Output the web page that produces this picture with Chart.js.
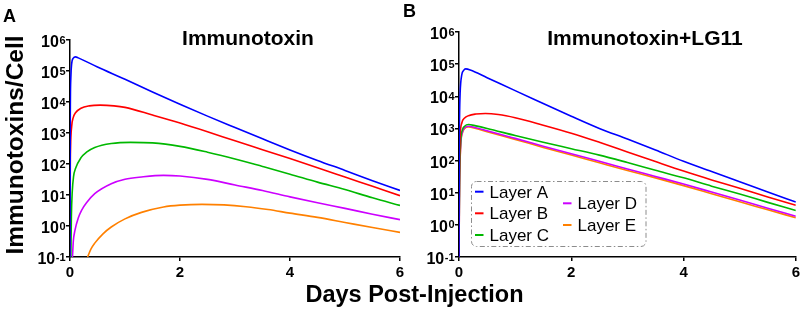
<!DOCTYPE html>
<html><head><meta charset="utf-8">
<script src="https://cdn.jsdelivr.net/npm/chart.js@4.4.1/dist/chart.umd.min.js"></script>
<style>
html,body{margin:0;padding:0;background:#fff;}
#wrap{position:relative;width:803px;height:310px;overflow:hidden;background:#fff}
canvas{position:absolute;left:0;top:0}
</style></head><body>
<div id="wrap"><canvas id="cA" width="803" height="310"></canvas><canvas id="cB" width="803" height="310"></canvas></div>
<script>
// ---- shared labels / ticks ----
const layerLabels = ['Layer A','Layer B','Layer C','Layer D','Layer E'];
const layerColors = ['#0000FF','#FF0000','#00B800','#CC00FF','#FF8000'];
const xTickDays = [0, 2, 4, 6];
const yTickExponents = [-1, 0, 1, 2, 3, 4, 5, 6];
const panelTitles = ['Immunotoxin', 'Immunotoxin+LG11'];
const panelLetters = ['A', 'B'];
const xAxisTitle = 'Days Post-Injection';
const yAxisTitle = 'Immunotoxins/Cell';

// ---- Panel A: Immunotoxin ----
const daysA_layerA = [0, 0.005, 0.015, 0.03, 0.06, 0.1, 0.15, 0.5, 1, 1.5, 2, 2.5, 3, 3.5, 4, 4.5, 5, 5.5, 6];
const cellsA_layerA = [0.1, 3000, 60000, 170000, 260000, 285000, 265000, 135000, 54000, 21000, 8500, 3500, 1500, 650, 285, 130, 62, 29, 14];
const daysA_layerB = [0, 0.005, 0.01, 0.03, 0.06, 0.1, 0.2, 0.35, 0.55, 0.8, 1, 1.5, 2, 2.5, 3, 3.5, 4, 4.5, 5, 5.5, 6];
const cellsA_layerB = [0.1, 63, 316, 1600, 3200, 4500, 6300, 7500, 7900, 7500, 6700, 3800, 2100, 1100, 560, 290, 150, 76, 38, 19, 9.5];
const daysA_layerC = [0.015, 0.025, 0.04, 0.065, 0.1, 0.2, 0.3, 0.45, 0.75, 1.1, 1.5, 2, 2.5, 3, 3.5, 4, 4.5, 5, 5.5, 6];
const cellsA_layerC = [0.1, 2, 12, 40, 71, 160, 240, 340, 457, 500, 480, 370, 240, 145, 83, 47, 26, 15, 8.1, 4.6];
const daysA_layerD = [0.045, 0.06, 0.09, 0.15, 0.21, 0.3, 0.45, 0.75, 1, 1.3, 1.7, 2, 2.5, 3, 3.5, 4, 4.5, 5, 5.5, 6];
const cellsA_layerD = [0.1, 0.32, 0.72, 1.8, 3.2, 5.6, 11, 23, 32, 38, 43, 41, 32, 21, 14, 8.7, 5.6, 3.7, 2.4, 1.6];
const daysA_layerE = [0.32, 0.38, 0.45, 0.6, 0.75, 1, 1.3, 1.7, 2, 2.4, 2.8, 3.2, 3.6, 4, 4.5, 5, 5.5, 6];
const cellsA_layerE = [0.1, 0.18, 0.28, 0.56, 0.93, 1.7, 2.75, 4.1, 4.7, 5.0, 4.8, 4.2, 3.4, 2.6, 1.9, 1.3, 0.89, 0.62];

// ---- Panel B: Immunotoxin+LG11 ----
const daysB_layerA = [0, 0.005, 0.01, 0.02, 0.05, 0.08, 0.12, 0.2, 0.5, 1, 1.5, 2, 2.5, 3, 3.5, 4, 4.5, 5, 5.5, 6];
const cellsB_layerA = [0.1, 316, 2500, 12600, 47000, 63000, 71000, 66000, 38000, 15000, 6000, 2400, 1000, 470, 214, 95, 46, 22, 10.5, 5.1];
const daysB_layerB = [0, 0.005, 0.01, 0.02, 0.05, 0.1, 0.17, 0.3, 0.47, 0.7, 1, 1.5, 2, 2.5, 3, 3.5, 4, 4.5, 5, 5.5, 6];
const cellsB_layerB = [0.1, 16, 100, 560, 1480, 2100, 2500, 2800, 2900, 2700, 2150, 1260, 710, 370, 186, 93, 47, 25, 13.8, 7.4, 4.1];
const daysB_layerC = [0, 0.005, 0.01, 0.03, 0.06, 0.1, 0.17, 0.3, 0.5, 1, 1.5, 2, 2.5, 3, 3.5, 4, 4.5, 5, 5.5, 6];
const cellsB_layerC = [0.1, 3.2, 32, 400, 890, 1170, 1320, 1200, 1000, 600, 370, 234, 148, 87, 50, 29, 16, 9.1, 5.0, 2.8];
const daysB_layerD = [0, 0.005, 0.01, 0.03, 0.06, 0.1, 0.17, 0.3, 0.5, 1, 1.5, 2, 2.5, 3, 3.5, 4, 4.5, 5, 5.5, 6];
const cellsB_layerD = [0.1, 2, 20, 316, 760, 1050, 1170, 1050, 850, 490, 280, 162, 95, 55, 32, 18.6, 10.5, 5.9, 3.3, 1.86];
const daysB_layerE = [0, 0.005, 0.01, 0.03, 0.06, 0.1, 0.17, 0.3, 0.5, 1, 1.5, 2, 2.5, 3, 3.5, 4, 4.5, 5, 5.5, 6];
const cellsB_layerE = [0.1, 1.6, 16, 280, 710, 1000, 1120, 1000, 795, 457, 257, 148, 85, 49, 29, 16.6, 9.3, 5.2, 2.95, 1.66];

const FONT = '"Liberation Sans", Arial, Helvetica, sans-serif';

function pts(days, vals){ return days.map((d,i)=>({x:d, y:vals[i]})); }
function makeDatasets(pairs){
  return pairs.map((p,i)=>({
    label: layerLabels[i], data: pts(p[0], p[1]),
    borderColor: layerColors[i], backgroundColor: layerColors[i],
    borderWidth: 1.6, pointRadius: 0, fill: false,
    cubicInterpolationMode: 'monotone'
  }));
}

const powLabels = {
  id: 'powLabels',
  afterDraw(chart){
    const ys = chart.scales.y, ctx = chart.ctx, left = chart.chartArea.left;
    ctx.save(); ctx.fillStyle = '#000'; ctx.textBaseline = 'alphabetic';
    yTickExponents.forEach(e=>{
      const y = ys.getPixelForValue(Math.pow(10, e));
      const exp = String(e);
      ctx.font = 'bold 11px ' + FONT;
      const ew = ctx.measureText(exp).width;
      const ex = left - 4.5 - ew;
      ctx.textAlign = 'left';
      ctx.fillText(exp, ex, y + 3.5);
      ctx.font = 'bold 16px ' + FONT;
      ctx.textAlign = 'right';
      ctx.fillText('10', ex - 0.5, y + 7);
    });
    ctx.restore();
  }
};

function scalesFor(yWidth){
  return {
    x: {
      type: 'linear', min: 0, max: 6,
      afterBuildTicks: s => { s.ticks = xTickDays.map(v=>({value:v})); },
      afterFit: s => { s.height = 53; },
      grid: { display: true, drawOnChartArea: false, drawTicks: true, tickLength: 4, color: '#000', lineWidth: 1.5 },
      border: { display: true, color: '#000', width: 1.5 },
      ticks: { color: '#000', font: { family: FONT, size: 15, weight: 'bold' }, padding: 3, maxRotation: 0 }
    },
    y: {
      type: 'logarithmic', min: 0.1, max: 1e6,
      afterBuildTicks: s => { s.ticks = yTickExponents.map(e=>({value: Math.pow(10,e)})); },
      afterFit: s => { s.width = yWidth; },
      grid: { display: true, drawOnChartArea: false, drawTicks: true, tickLength: 4, color: '#000', lineWidth: 1.5 },
      border: { display: true, color: '#000', width: 1.5 },
      ticks: { display: false }
    }
  };
}

const textA = {
  id: 'textA',
  afterDraw(chart){
    const ctx = chart.ctx; ctx.save(); ctx.fillStyle = '#000'; ctx.textBaseline = 'alphabetic';
    ctx.font = 'bold 18px ' + FONT; ctx.textAlign = 'left';
    ctx.fillText(panelLetters[0], 3, 22);
    ctx.font = 'bold 21px ' + FONT; ctx.textAlign = 'center';
    ctx.fillText(panelTitles[0], 248, 45);
    ctx.font = 'bold 23.5px ' + FONT; ctx.textAlign = 'center';
    ctx.fillText(xAxisTitle, 414.5, 302);
    ctx.translate(22.5, 145); ctx.rotate(-Math.PI/2);
    ctx.font = 'bold 24.5px ' + FONT; ctx.textAlign = 'center';
    ctx.fillText(yAxisTitle, 0, 0);
    ctx.restore();
  }
};

const textB = {
  id: 'textB',
  afterDraw(chart){
    const ctx = chart.ctx; ctx.save(); ctx.fillStyle = '#000'; ctx.textBaseline = 'alphabetic';
    ctx.font = 'bold 18px ' + FONT; ctx.textAlign = 'left';
    ctx.fillText(panelLetters[1], 403, 17);
    ctx.font = 'bold 21px ' + FONT; ctx.textAlign = 'center';
    ctx.fillText(panelTitles[1], 645, 44.5);
    // legend box
    ctx.fillStyle = '#fff';
    ctx.beginPath(); ctx.roundRect(471.5, 181.5, 174.5, 65, 5); ctx.fill();
    ctx.strokeStyle = '#8c8c8c'; ctx.lineWidth = 1; ctx.setLineDash([5, 2.5, 1.5, 2.5]);
    ctx.stroke(); ctx.setLineDash([]);
    const slots = [[475,191.7],[475,213.3],[475,235],[563,203.3],[563,225]];
    chart.data.datasets.forEach((ds,i)=>{
      const s = slots[i];
      ctx.strokeStyle = ds.borderColor; ctx.lineWidth = 2;
      ctx.beginPath(); ctx.moveTo(s[0], s[1]); ctx.lineTo(s[0]+8.5, s[1]); ctx.stroke();
      ctx.fillStyle = '#000'; ctx.font = '17px ' + FONT; ctx.textAlign = 'left';
      ctx.fillText(ds.label, s[0]+14.5, s[1]+6);
    });
    ctx.restore();
  }
};

const common = { responsive: false, animation: false, devicePixelRatio: 1,
  plugins: { legend: { display: false }, tooltip: { enabled: false }, title: { display: false } } };

new Chart(document.getElementById('cA'), {
  type: 'line',
  data: { datasets: makeDatasets([
    [daysA_layerA, cellsA_layerA], [daysA_layerB, cellsA_layerB], [daysA_layerC, cellsA_layerC],
    [daysA_layerD, cellsA_layerD], [daysA_layerE, cellsA_layerE]]) },
  options: Object.assign({}, common, {
    layout: { padding: { left: 0, top: 40, right: 403, bottom: 0 } },
    scales: scalesFor(70)
  }),
  plugins: [powLabels, textA]
});

new Chart(document.getElementById('cB'), {
  type: 'line',
  data: { datasets: makeDatasets([
    [daysB_layerA, cellsB_layerA], [daysB_layerB, cellsB_layerB], [daysB_layerC, cellsB_layerC],
    [daysB_layerD, cellsB_layerD], [daysB_layerE, cellsB_layerE]]) },
  options: Object.assign({}, common, {
    layout: { padding: { left: 389, top: 32, right: 6, bottom: 0 } },
    scales: scalesFor(70)
  }),
  plugins: [powLabels, textB]
});
</script>
</body></html>
